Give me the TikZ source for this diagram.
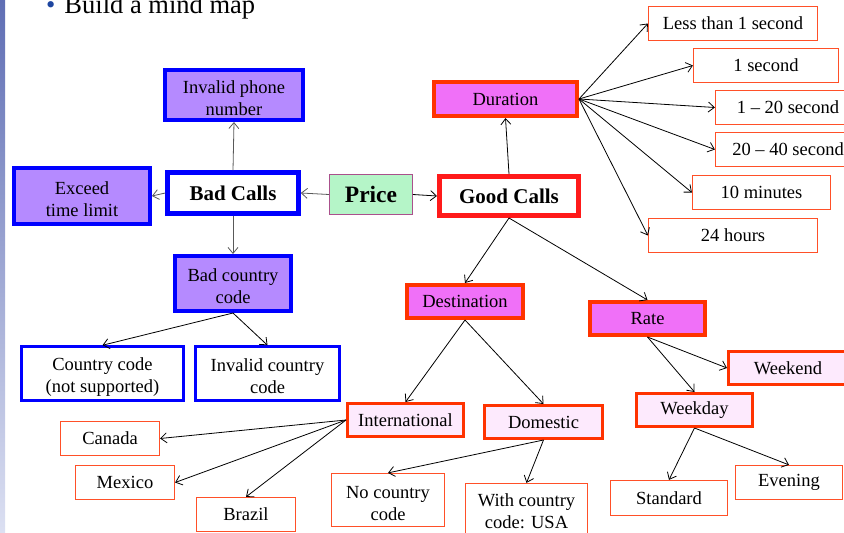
\documentclass[tikz,border=0pt]{standalone}
\usepackage{fontspec}
\setmainfont{Liberation Serif}
\usetikzlibrary{arrows.meta}
\definecolor{badblue}{RGB}{0,0,255}
\definecolor{lavender}{RGB}{181,138,255}
\definecolor{pinkfill}{RGB}{240,112,248}
\definecolor{palepink}{RGB}{253,234,253}
\definecolor{mint}{RGB}{181,245,200}
\definecolor{plumline}{RGB}{170,80,140}
\definecolor{goodred}{RGB}{255,26,26}
\definecolor{orangered}{RGB}{255,51,0}
\definecolor{leafred}{RGB}{255,80,40}
\definecolor{bulletblue}{RGB}{30,70,160}
\definecolor{bartop}{RGB}{95,110,180}
\definecolor{barbottom}{RGB}{220,224,242}
\newcommand*{\txt}{\fontsize{18.5}{22}\selectfont}
\newcommand*{\bigtxt}{\fontsize{21}{25}\selectfont\bfseries}
\newcommand*{\firstline}{\rule{0pt}{19pt}}

\begin{document}
\begin{tikzpicture}
[
	x=1pt, y=-1pt,
	box/.style={rectangle,align=center,inner sep=1pt,font=\txt},
	badmain/.style={box,draw=badblue,line width=4.5pt,fill=white,font=\bigtxt},
	badsub/.style={box,draw=badblue,line width=4pt,fill=lavender},
	badleaf/.style={box,draw=badblue,line width=2.5pt,fill=white},
	goodmain/.style={box,draw=goodred,line width=5pt,fill=white,font=\bigtxt},
	goodsub/.style={box,draw=orangered,line width=4pt,fill=pinkfill},
	goodmid/.style={box,draw=orangered,line width=3pt,fill=palepink},
	leaf/.style={box,draw=leafred,line width=1.2pt,fill=white},
	pricebox/.style={box,draw=plumline,line width=0.8pt,fill=mint,font=\fontsize{23.5}{27}\selectfont\bfseries},
	link/.style={-{Straight Barb[length=6pt,width=10pt]},line width=0.8pt},
	graylink/.style={link,black!65}
]
	\useasboundingbox (0,0) rectangle (844,533);

	% slide bar and title
	\shade[top color=bartop,bottom color=barbottom] (0,0) rectangle (5,533);
	\node[anchor=base west,inner sep=0pt,font=\fontsize{26.5}{30}\selectfont] (title) at (46,13) {{\color{bulletblue}\textbullet}\hspace{9pt}Build a mind map};

	% centre
	\node[pricebox,minimum width=83,minimum height=40] (price) at (371,194.5) {Price};

	% bad calls
	\node[badmain,minimum width=131,minimum height=41] (bad) at (233,193) {Bad Calls};
	\node[badsub,minimum width=138,minimum height=50] (phone) at (234,95) {\firstline Invalid phone\\number};
	\node[badsub,minimum width=136,minimum height=56] (exceed) at (82,196) {\firstline Exceed\\time limit};
	\node[badsub,minimum width=116,minimum height=55] (bcc) at (233,283.5) {\firstline Bad country\\code};
	\node[badleaf,minimum width=162,minimum height=54] (ccns) at (102.5,373.5) {\firstline Country code\\(not supported)};
	\node[badleaf,minimum width=144,minimum height=54] (icc) at (267.5,373.5) {\firstline Invalid country\\code};

	% good calls
	\node[goodmain,minimum width=139,minimum height=39] (good) at (509,196) {Good Calls};
	\node[goodsub,minimum width=143,minimum height=34] (dur) at (505.5,99) {Duration};
	\node[goodsub,minimum width=116,minimum height=33] (dest) at (465,301.5) {Destination};
	\node[goodsub,minimum width=115,minimum height=33] (rate) at (647.5,318.5) {Rate};

	% duration
	\node[leaf,minimum width=169,minimum height=34] (lt1) at (733,23.5) {Less than 1 second};
	\node[leaf,minimum width=145,minimum height=34] (one) at (766,65.5) {1 second};
	\node[leaf,minimum width=145,minimum height=34] (onetwenty) at (788,107.5) {1 -- 20 second};
	\node[leaf,minimum width=145,minimum height=34] (twentyforty) at (788,149.5) {20 -- 40 second};
	\node[leaf,minimum width=138,minimum height=34] (tenmin) at (761.5,192.5) {10 minutes};
	\node[leaf,minimum width=169,minimum height=34] (day) at (733,235.5) {24 hours};

	% destination
	\node[goodmid,minimum width=116,minimum height=33] (intl) at (405.5,420) {International};
	\node[goodmid,minimum width=118,minimum height=33] (dom) at (543.5,422) {Domestic};
	\node[leaf,minimum width=99,minimum height=34] (canada) at (110,438.5) {Canada};
	\node[leaf,minimum width=99,minimum height=34] (mexico) at (125,482.5) {Mexico};
	\node[leaf,minimum width=99,minimum height=34] (brazil) at (246,514.5) {Brazil};
	\node[leaf,minimum width=113,minimum height=53] (nocc) at (388,500) {\firstline No country\\code};
	\node[leaf,minimum width=122,minimum height=55] (wcc) at (526.5,511) {With country\\code: USA};

	% rate
	\node[goodmid,minimum width=119,minimum height=33] (wkend) at (788,368) {Weekend};
	\node[goodmid,minimum width=116,minimum height=33] (wkday) at (694.5,410) {Weekday};
	\node[leaf,minimum width=117,minimum height=35] (std) at (669,498) {Standard};
	\node[leaf,minimum width=107,minimum height=34] (eve) at (789,482.5) {Evening};

	% connectors
	\draw[graylink] (price.west) -- (bad.east);
	\draw[link] (price.east) -- (good.west);
	\draw[graylink] (bad.north) -- (phone.south);
	\draw[graylink] (bad.west) -- (exceed.east);
	\draw[graylink] (bad.south) -- (bcc.north);
	\draw[link] (bcc.south) -- (ccns.north);
	\draw[link] (bcc.south) -- (icc.north);
	\draw[link] (good.north) -- (dur.south);
	\draw[link] (good.south) -- (dest.north);
	\draw[link] (good.south) -- (rate.north);
	\foreach \leafname in {lt1,one,onetwenty,twentyforty,tenmin,day}
		\draw[link] (dur.east) -- (\leafname.west);
	\draw[link] (dest.south) -- (intl.north);
	\draw[link] (dest.south) -- (dom.north);
	\draw[link] (intl.west) -- (canada.east);
	\draw[link] (intl.west) -- (mexico.east);
	\draw[link] (intl.west) -- (brazil.north);
	\draw[link] (dom.south) -- (nocc.north);
	\draw[link] (dom.south) -- (wcc.north);
	\draw[link] (rate.south) -- (wkend.west);
	\draw[link] (rate.south) -- (wkday.north);
	\draw[link] (wkday.south) -- (std.north);
	\draw[link] (wkday.south) -- (eve.north);

\end{tikzpicture}
\end{document}
